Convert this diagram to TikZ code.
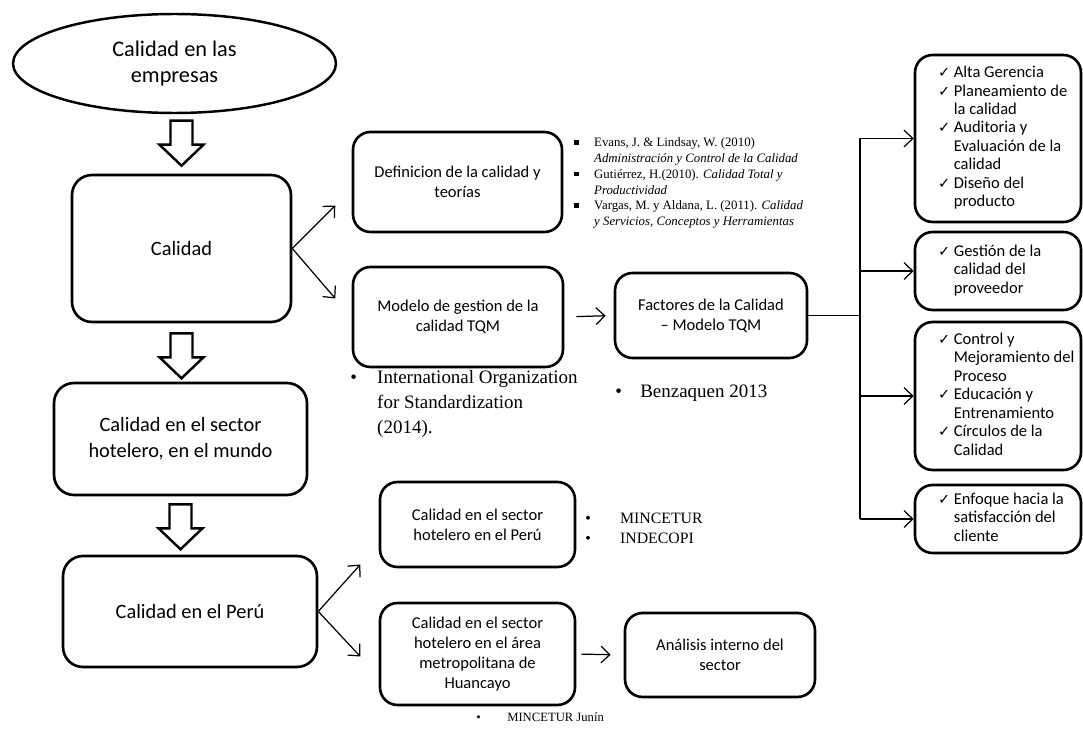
\documentclass[tikz,border=0pt]{standalone}
\usepackage{fontspec}
\setmainfont{Carlito}
\newfontfamily\refsfont{Liberation Serif}
\newfontfamily\symfont{DejaVu Sans}
\usetikzlibrary{arrows.meta,positioning,calc,shapes.geometric}

% check mark and bullets for the lists
\newcommand{\ck}{\makebox[9pt][l]{\symfont\fontsize{8.3}{9}\selectfont ✓}}
\newcommand{\sq}{\makebox[11.3pt][l]{\raisebox{1.2pt}{\rule{2.5pt}{2.5pt}}}}
\newcommand{\bul}[1]{\makebox[#1][l]{•}}

\begin{document}
\begin{tikzpicture}[
    x=0.02cm, y=-0.02cm,
    % ── Node styles ──
    elli/.style   = {ellipse, draw, line width=1.4pt, inner sep=0pt,
                     font=\fontsize{12.7}{15.3}\selectfont, align=center},
    bigbox/.style = {rectangle, rounded corners=0.4cm, draw, line width=1.5pt,
                     font=\fontsize{11.6}{14.7}\selectfont, align=center},
    box/.style    = {rectangle, rounded corners=0.35cm, draw, line width=1.5pt,
                     font=\fontsize{9.4}{11.4}\selectfont, align=center},
    fbox/.style   = {rectangle, rounded corners=0.35cm, draw, line width=1.5pt,
                     minimum width=3.32cm,
                     font=\fontsize{9.4}{10.5}\selectfont},
    refs/.style   = {inner sep=0pt, font=\refsfont\fontsize{7.3}{9}\selectfont},
    cite/.style   = {inner sep=0pt, font=\refsfont\fontsize{10.8}{14.2}\selectfont},
    src/.style    = {inner sep=0pt, font=\refsfont\fontsize{9}{11.3}\selectfont},
    arr/.style    = {-{Straight Barb[length=5pt,width=9.5pt]}, line width=0.7pt},
    ln/.style     = {line width=0.7pt},
    blk/.style    = {draw, line width=1.4pt, fill=white, line join=miter},
    blockdown/.pic = {\draw[blk] (-11,0) -- (-11,24) -- (-22,24) -- (0,45)
                      -- (22,24) -- (11,24) -- (11,0) -- cycle;},
]
\useasboundingbox (0,0) rectangle (1083,740);

% =====================================================================
%  LEFT COLUMN
% =====================================================================
\node[elli, minimum width=6.46cm, minimum height=1.98cm] (empresas)
    at (174.5,63.5) {Calidad en las\\empresas};
\node[bigbox, minimum width=4.38cm, minimum height=2.94cm] (calidad)
    at (181.5,248.5) {Calidad};
\node[bigbox, minimum width=5.06cm, minimum height=2.24cm] (mundo)
    at (180.5,439) {Calidad en el sector\\hotelero, en el mundo};
\node[bigbox, minimum width=5.08cm, minimum height=2.22cm] (peru)
    at (190,611.5) {Calidad en el Perú};

\pic at ($(calidad.north)+(0,-53)$) {blockdown};
\pic at ($(calidad.south)+(0,10)$)  {blockdown};
\pic at ($(mundo.south)+(0,8)$)     {blockdown};

% =====================================================================
%  MIDDLE COLUMN
% =====================================================================
\node[box, minimum width=4.18cm, minimum height=2cm] (defin)
    at (457.5,182) {Definicion de la calidad y\\teorías};
\node[box, minimum width=4.2cm, minimum height=2cm] (modelo)
    at (458,317) {Modelo de gestion de la\\calidad TQM};
\node[box, minimum width=3.84cm, minimum height=1.7cm] (factores)
    at (711,315.5) {Factores de la Calidad\\– Modelo TQM};
\node[box, minimum width=3.9cm, minimum height=1.7cm] (hotperu)
    at (477.5,524.5) {Calidad en el sector\\hotelero en el Perú};
\node[box, minimum width=3.9cm, minimum height=2.04cm] (huancayo)
    at (477.5,654) {Calidad en el sector\\hotelero en el área\\metropolitana de\\Huancayo};
\node[box, minimum width=3.8cm, minimum height=1.68cm] (analisis)
    at (720,655) {Análisis interno del\\sector};

\draw[arr] (calidad.east) -- ++(43,-43);
\draw[arr] (calidad.east) -- ++(43,50);
\draw[arr] (peru.east) -- ++(42,-47);
\draw[arr] (peru.east) -- ++(42,45);
\draw[arr, shorten <=0.24cm, shorten >=0.16cm] (modelo.east) -- (factores.west);
\draw[arr, shorten <=0.1cm, shorten >=0.26cm] (huancayo.east) -- (analisis.west);

% ── sources
\node[refs, anchor=west] (refs) at (574,183) {\begin{tabular}{@{}l@{}l@{}}
    \sq & Evans, J. \& Lindsay, W. (2010)\\
        & \textit{Administración y Control de la Calidad}\\
    \sq & Gutiérrez, H.(2010). \textit{Calidad Total y}\\
        & \textit{Productividad}\\
    \sq & Vargas, M. y Aldana, L. (2011). \textit{Calidad}\\
        & \textit{y Servicios, Conceptos y Herramientas}
    \end{tabular}};
\node[cite, anchor=north west] (iso) at (350,366) {\begin{tabular}{@{}l@{}l@{}}
    \bul{15.3pt} & International Organization\\
                 & for Standardization\\
                 & (2014).
    \end{tabular}};
\node[cite, anchor=base west] (benz) at (615,398) {\bul{14.2pt}Benzaquen 2013};
\node[src, anchor=north west] (mince) at (585,509) {\begin{tabular}{@{}l@{}l@{}}
    \bul{19.8pt} & MINCETUR\\
    \bul{19.8pt} & INDECOPI
    \end{tabular}};
\node[refs, font=\refsfont\fontsize{7.2}{9}\selectfont, anchor=base west] (junin)
    at (476,721.5) {\bul{17.6pt}MINCETUR Junín};

% =====================================================================
%  RIGHT COLUMN: factores de la calidad
% =====================================================================
\node[fbox, minimum height=3.34cm] (f1) at (998,138.5) {\makebox[2.4cm][l]{%
    \begin{tabular}{@{}l@{}l@{}}
    \ck & Alta Gerencia\\
    \ck & Planeamiento de\\
        & la calidad\\
    \ck & Auditoria y\\
        & Evaluación de la\\
        & calidad\\
    \ck & Diseño del\\
        & producto
    \end{tabular}}};
\node[fbox, minimum height=1.56cm] (f2) at (998,271) {\makebox[2.4cm][l]{%
    \begin{tabular}{@{}l@{}l@{}}
    \ck & Gestión de la\\
        & calidad del\\
        & proveedor
    \end{tabular}}};
\node[fbox, minimum height=2.96cm] (f3) at (998,396) {\makebox[2.4cm][l]{%
    \begin{tabular}{@{}l@{}l@{}}
    \ck & Control y\\
        & Mejoramiento del\\
        & Proceso\\
    \ck & Educación y\\
        & Entrenamiento\\
    \ck & Círculos de la\\
        & Calidad
    \end{tabular}}};
\node[fbox, minimum height=1.36cm] (f4) at (998,519) {\makebox[2.4cm][l]{%
    \begin{tabular}{@{}l@{}l@{}}
    \ck & Enfoque hacia la\\
        & satisfacción del\\
        & cliente
    \end{tabular}}};

\coordinate (trunk) at (860,0);
\draw[ln] (factores.east) -- (factores.east -| trunk);
\draw[ln] (trunk |- f1.west) -- (trunk |- f4.west);
\foreach \f in {f1,f2,f3,f4}
    \draw[arr] (trunk |- \f.west) -- (\f.west);

\end{tikzpicture}
\end{document}
